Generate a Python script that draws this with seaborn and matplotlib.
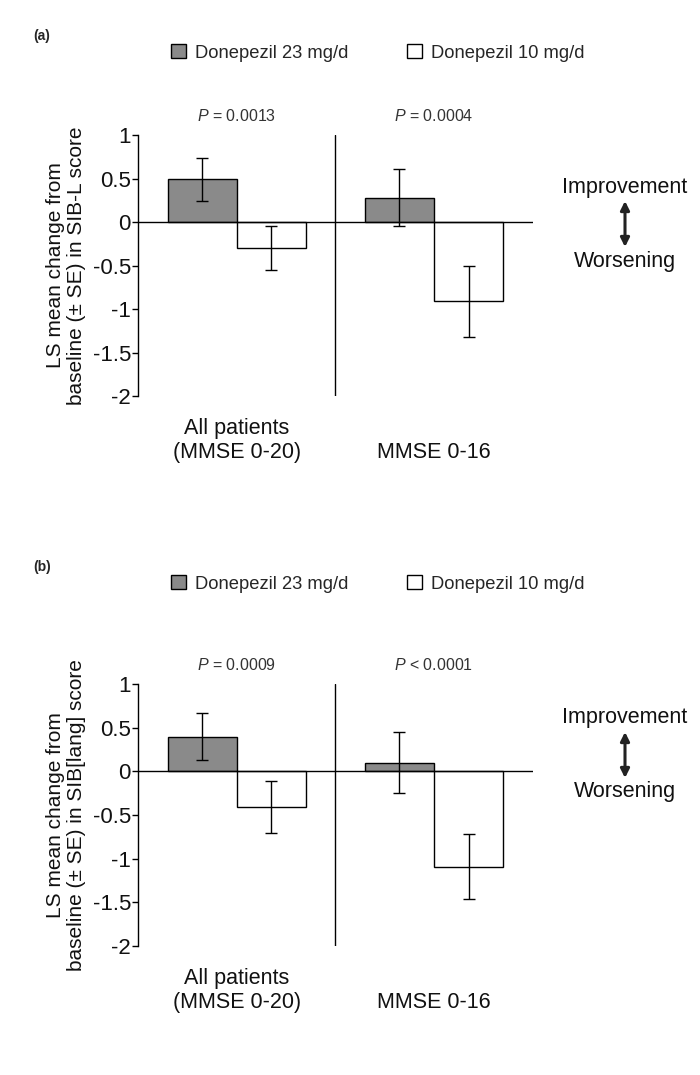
import matplotlib
matplotlib.use('Agg')
import matplotlib.pyplot as plt
import seaborn as sns
import pandas as pd

# values
groups = ['All patients\n(MMSE 0-20)', '\nMMSE 0-16']
doses = ['Donepezil 23 mg/d', 'Donepezil 10 mg/d']

sibl_23 = [0.49, 0.28]
sibl_10 = [-0.30, -0.91]
sibl_se_23 = [0.25, 0.33]
sibl_se_10 = [0.25, 0.41]
sibl_p = ['0.0013', '0.0004']

lang_23 = [0.40, 0.10]
lang_10 = [-0.41, -1.09]
lang_se_23 = [0.27, 0.35]
lang_se_10 = [0.30, 0.37]
lang_p = ['= 0.0009', '< 0.0001']

yticks = [1, 0.5, 0, -0.5, -1, -1.5, -2]
ytick_labels = ['1', '0.5', '0', '-0.5', '-1', '-1.5', '-2']

sns.set_style('white')
plt.rcParams['font.family'] = ['Liberation Sans', 'DejaVu Sans']
plt.rcParams['mathtext.fontset'] = 'custom'
plt.rcParams['mathtext.rm'] = 'Liberation Sans'
plt.rcParams['mathtext.it'] = 'Liberation Sans:italic'

colors = {'Donepezil 23 mg/d': '#8a8a8a', 'Donepezil 10 mg/d': 'white'}

fig = plt.figure(figsize=(7, 10.75), dpi=100)


def panel(rect, v23, v10, se23, se10, pvals, ylabel, tag, top_px):
    ax = fig.add_axes(rect)
    df = pd.DataFrame({
        'group': groups * 2,
        'dose': [doses[0]] * 2 + [doses[1]] * 2,
        'value': v23 + v10,
    })
    sns.barplot(data=df, x='group', y='value', hue='dose', order=groups,
                hue_order=doses, palette=colors, edgecolor='black',
                linewidth=1, width=0.7, errorbar=None, legend=False, ax=ax)
    bars = list(ax.containers)
    errs = [se23, se10]
    for cont, e in zip(bars, errs):
        xs = [p.get_x() + p.get_width() / 2 for p in cont.patches]
        ys = [p.get_y() + p.get_height() for p in cont.patches]
        ax.errorbar(xs, ys, yerr=e, fmt='none', ecolor='black',
                    elinewidth=1, capsize=4, capthick=1)
    ax.set_xlim(-0.5, 1.5)
    ax.set_ylim(-2, 1)
    ax.axhline(0, color='black', lw=1)
    ax.axvline(0.5, color='black', lw=1)
    for s in ['top', 'right', 'bottom']:
        ax.spines[s].set_visible(False)
    ax.spines['left'].set_color('black')
    ax.spines['left'].set_linewidth(1)
    ax.set_yticks(yticks)
    ax.set_yticklabels(ytick_labels, fontsize=16)
    ax.tick_params(axis='y', left=True, length=4, width=1, pad=1,
                   color='black', labelcolor='#111111')
    ax.tick_params(axis='x', length=0, pad=16, labelsize=15.5,
                   labelcolor='#111111')
    ax.set_xlabel('')
    ax.set_ylabel(ylabel, fontsize=15, labelpad=5, color='#111111',
                  linespacing=1.1)
    for i, p in enumerate(pvals):
        ax.text(i, 1.22, '$\\it{P}$ ' + p, ha='center', va='center',
                fontsize=11.5, color='#333333', clip_on=False)

    h = [c.patches[0] for c in bars]
    ax.legend(h, doses, loc='center', ncol=2, frameon=False, fontsize=13.2,
              bbox_to_anchor=(0.54, 1 - (top_px + 53) / 1075),
              bbox_transform=fig.transFigure, handlelength=0.8,
              handleheight=0.8, handletextpad=0.5, columnspacing=3.2)
    fig.text(33 / 700, 1 - (top_px + 36) / 1075, tag, fontsize=10,
             fontweight='bold', va='center')

    fig.text(625 / 700, 1 - (top_px + 187) / 1075, 'Improvement',
             ha='center', va='center', fontsize=15.5, color='#111111')
    fig.text(625 / 700, 1 - (top_px + 261) / 1075, 'Worsening',
             ha='center', va='center', fontsize=15.5, color='#111111')
    ax.annotate('', xy=(625 / 700, 1 - (top_px + 201) / 1075),
                xytext=(625 / 700, 1 - (top_px + 247) / 1075),
                xycoords='figure fraction', textcoords='figure fraction',
                arrowprops=dict(arrowstyle='<|-|>', color='#222222', lw=2.2,
                                mutation_scale=13, shrinkA=0, shrinkB=0))
    return ax


panel([0.197, 0.6316, 0.564, 0.2428], sibl_23, sibl_10, sibl_se_23,
      sibl_se_10, ['= ' + p for p in sibl_p],
      'LS mean change from\nbaseline (± SE) in SIB-L score', '(a)', 0)
panel([0.197, 0.12, 0.564, 0.2435], lang_23, lang_10, lang_se_23,
      lang_se_10, lang_p,
      'LS mean change from\nbaseline (± SE) in SIB[lang] score', '(b)', 531)

fig.savefig('out.png', dpi=100)
